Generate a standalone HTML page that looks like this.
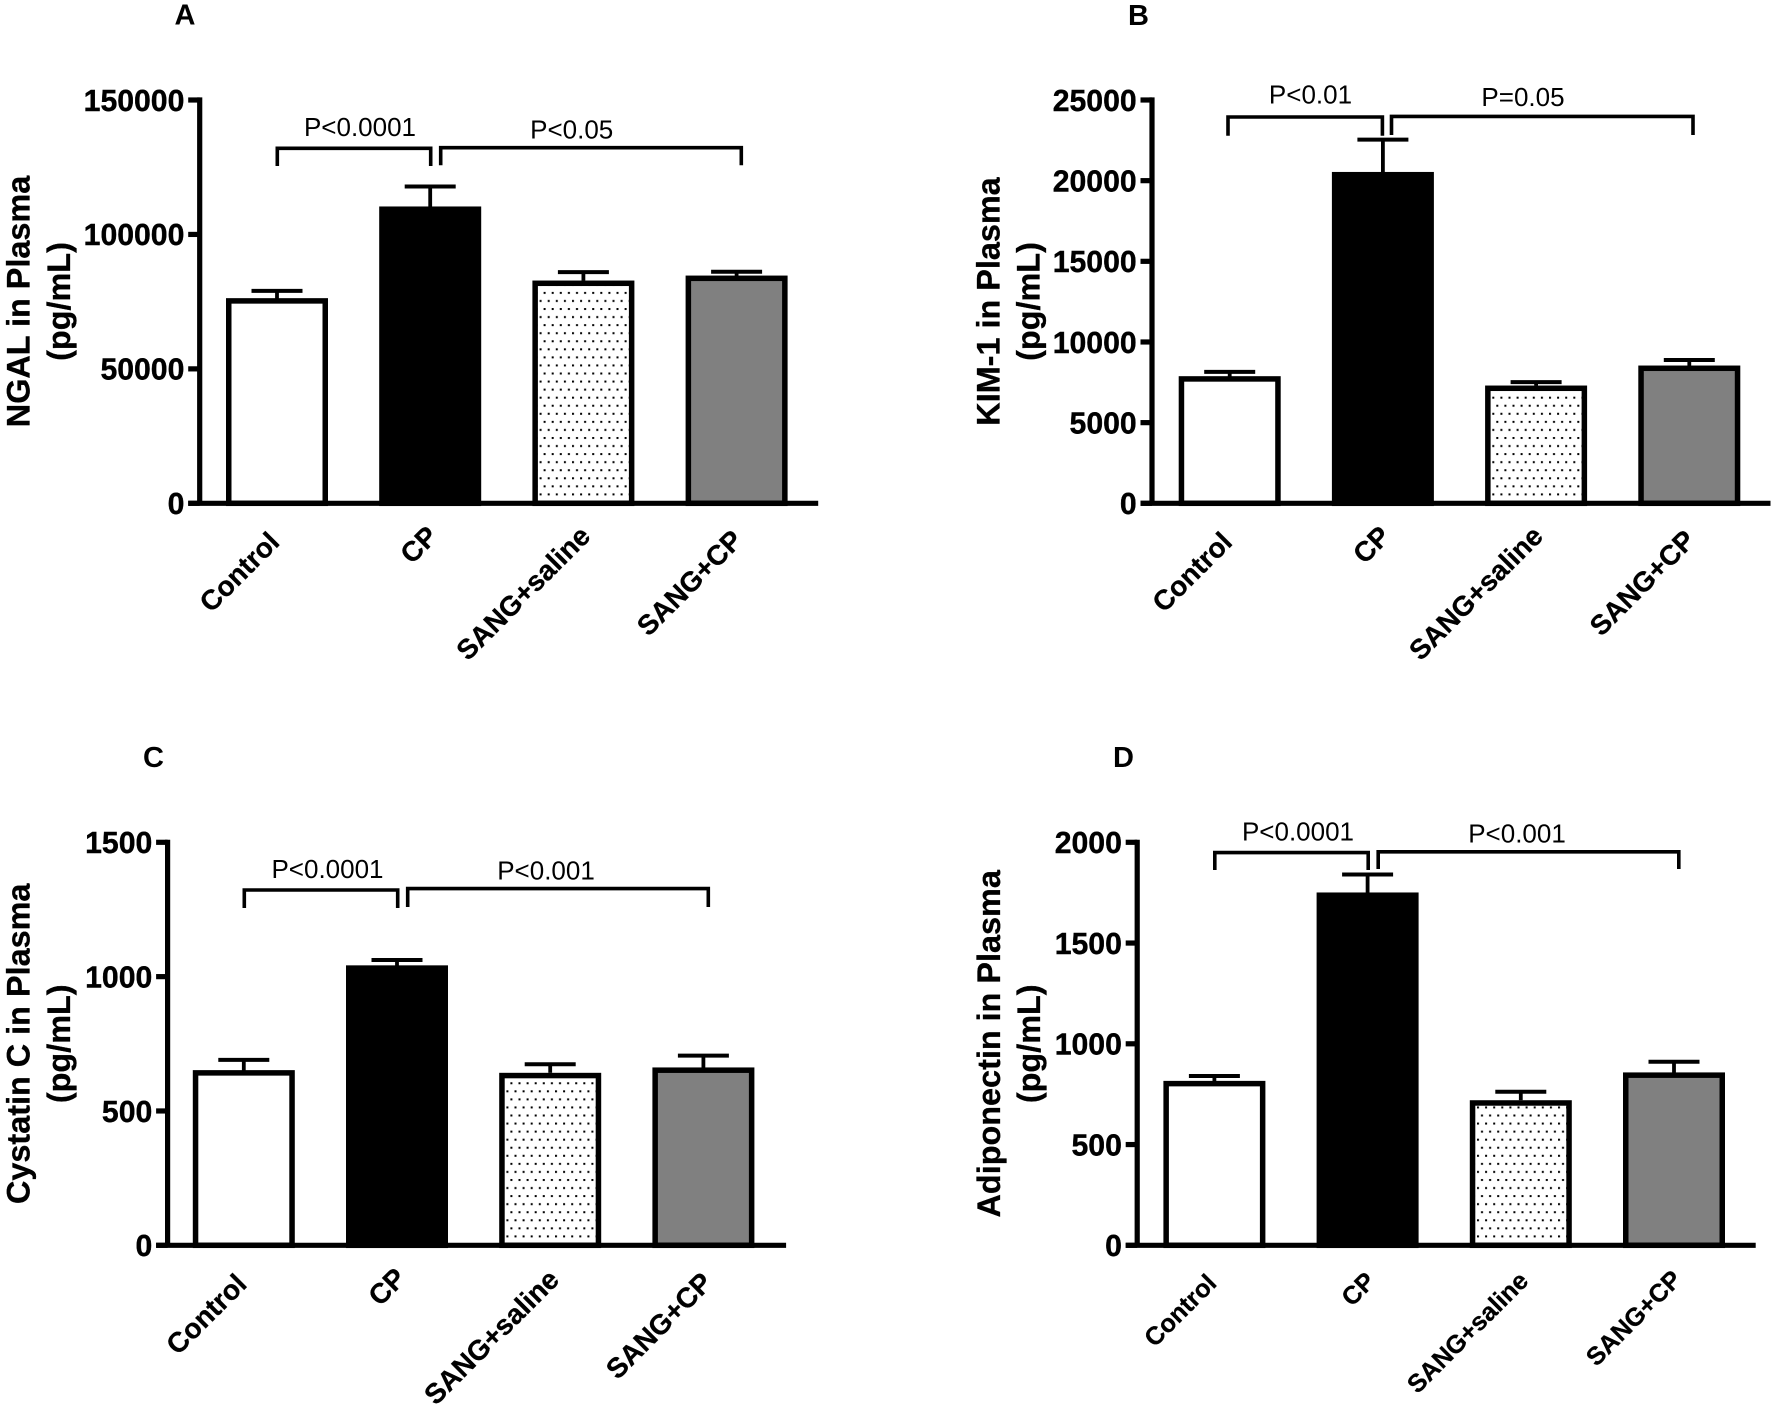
<!DOCTYPE html>
<html lang="en">
<head>
<meta charset="utf-8">
<title>Plasma biomarkers bar charts</title>
<style>
  html, body { margin: 0; padding: 0; background: #ffffff; }
  svg { display: block; }
  text { font-family: "Liberation Sans", Arial, sans-serif; fill: #000; }
  .letter { font-size: 29px; font-weight: 700; }
  .ytitle { font-size: 32.4px; font-weight: 700; text-anchor: middle; stroke: #000; stroke-width: 0.3; }
  .pval { font-size: 26px; text-anchor: middle; }
  .tick { font-size: 30.2px; font-weight: 700; text-anchor: end; stroke: #000; stroke-width: 0.4; }
  .cat { font-weight: 700; text-anchor: end; stroke: #000; stroke-width: 0.3; }
  .bracket { fill: none; stroke: #000; stroke-width: 3.6; }
</style>
</head>
<body>
<svg id="figure" xmlns="http://www.w3.org/2000/svg" width="1772" height="1406" viewBox="0 0 1772 1406">
  <rect width="1772" height="1406" fill="#ffffff"/>

  <!-- Panel A annotations -->
  <text class="letter" x="174.5" y="24.5">A</text>
  <text class="ytitle" transform="translate(29.5 301.5) rotate(-90)">NGAL in Plasma</text>
  <text class="ytitle" transform="translate(70 301.5) rotate(-90)">(pg/mL)</text>
  <path class="bracket" d="M277.3 166V148.3H430.7V166"/>
  <path class="bracket" d="M440.7 165.3V147.7H741.3V165.3"/>
  <text class="pval" x="360" y="136">P&lt;0.0001</text>
  <text class="pval" x="571.7" y="138.3">P&lt;0.05</text>

  <!-- Panel B annotations -->
  <text class="letter" x="1128" y="25">B</text>
  <text class="ytitle" transform="translate(999.5 301.5) rotate(-90)">KIM-1 in Plasma</text>
  <text class="ytitle" transform="translate(1039.5 301.5) rotate(-90)">(pg/mL)</text>
  <path class="bracket" d="M1228 135.7V117H1382.4V135.7"/>
  <path class="bracket" d="M1391.5 135V116.4H1693V135"/>
  <text class="pval" x="1310.5" y="103.5">P&lt;0.01</text>
  <text class="pval" x="1523" y="106">P=0.05</text>

  <!-- Panel C annotations -->
  <text class="letter" x="143" y="767">C</text>
  <text class="ytitle" transform="translate(29.5 1043.8) rotate(-90)">Cystatin C in Plasma</text>
  <text class="ytitle" transform="translate(70 1043.8) rotate(-90)">(pg/mL)</text>
  <path class="bracket" d="M244.3 908V890H397.7V908"/>
  <path class="bracket" d="M407.7 907V888.6H708.3V907"/>
  <text class="pval" x="327.5" y="878">P&lt;0.0001</text>
  <text class="pval" x="546" y="879.5">P&lt;0.001</text>

  <!-- Panel D annotations -->
  <text class="letter" x="1113" y="767">D</text>
  <text class="ytitle" transform="translate(1000 1043.8) rotate(-90)">Adiponectin in Plasma</text>
  <text class="ytitle" transform="translate(1040 1043.8) rotate(-90)">(pg/mL)</text>
  <path class="bracket" d="M1214.8 870V852.6H1368.2V870"/>
  <path class="bracket" d="M1378.2 869V851.8H1678.8V869"/>
  <text class="pval" x="1298" y="840.6">P&lt;0.0001</text>
  <text class="pval" x="1517" y="842.5">P&lt;0.001</text>

  <g id="marks"></g>
</svg>

<script>
// Shared categories
const categories = ['Control', 'CP', 'SANG+saline', 'SANG+CP'];

// Panel A – NGAL
const ngalMeans = [76300, 110400, 82850, 84700];
const ngalErrorTops = [79000, 117850, 86000, 86100];
const ngalTicks = [0, 50000, 100000, 150000];

// Panel B – KIM-1
const kimMeans = [7880, 20540, 7300, 8540];
const kimErrorTops = [8150, 22540, 7510, 8880];
const kimTicks = [0, 5000, 10000, 15000, 20000, 25000];

// Panel C – Cystatin C
const cystatinMeans = [652, 1042, 642, 662];
const cystatinErrorTops = [690, 1062, 674, 706];
const cystatinTicks = [0, 500, 1000, 1500];

// Panel D – Adiponectin
const adiponectinMeans = [816, 1751, 720, 858];
const adiponectinErrorTops = [840, 1840, 762, 911];
const adiponectinTicks = [0, 500, 1000, 1500, 2000];

const SVG_NS = 'http://www.w3.org/2000/svg';
const fills = ['#ffffff', '#000000', 'dots', '#808080'];
const slugs = ['control', 'cp', 'sang-saline', 'sang-cp'];

const nudgesAB = [[2, -3.5], [7, -9.5], [6.5, -9.5], [5.5, -5.5]];
const nudgesC = [[2.5, -1.5], [8.5, -7.5], [8.5, -6], [8.5, -3]];
const nudgesD = [[1.5, -2.5], [7, -4.5], [7, -5], [7, -6.5]];

const panels = [
  { id: 'a', axisX: 199.7, top: 100, base: 503.3, firstBar: 226, catSize: 27.8, means: ngalMeans, errs: ngalErrorTops, ticks: ngalTicks, labelDy: 44, nudges: nudgesAB },
  { id: 'b', axisX: 1152, top: 100, base: 503.3, firstBar: 1178.7, catSize: 27.8, means: kimMeans, errs: kimErrorTops, ticks: kimTicks, labelDy: 44, nudges: nudgesAB },
  { id: 'c', axisX: 167.6, top: 842.3, base: 1245.3, firstBar: 192.8, catSize: 28, means: cystatinMeans, errs: cystatinErrorTops, ticks: cystatinTicks, labelDy: 42, nudges: nudgesC },
  { id: 'd', axisX: 1137.2, top: 842.3, base: 1245.3, firstBar: 1163.4, catSize: 25.2, means: adiponectinMeans, errs: adiponectinErrorTops, ticks: adiponectinTicks, labelDy: 42, nudges: nudgesD }
];

const BAR_W = 102;
const BAR_STEP = 153.2;
const STROKE = 5.5;
const AXIS_W = 5.2;
const TICK_LEN = 11.5;
const AXIS_LEN = 630;
const CAP_W = 51;
const root = document.getElementById('marks');
const figure = document.getElementById('figure');

function make(tag, attrs, parent) {
  const el = document.createElementNS(SVG_NS, tag);
  Object.keys(attrs).forEach(function (k) { el.setAttribute(k, attrs[k]); });
  parent.appendChild(el);
  return el;
}

function yScale(p, v) {
  const max = p.ticks[p.ticks.length - 1];
  return p.base - (v / max) * (p.base - p.top);
}
function xBar(p, i) {
  return p.firstBar + i * BAR_STEP;
}

const defs = make('defs', {}, figure);

panels.forEach(function (p) {
  const group = make('g', {}, root);
  
  

  // dot pattern anchored to the speckled bar of this panel
  const left = xBar(p, 2);
  const pat = make('pattern', {
    id: 'dots-' + p.id, patternUnits: 'userSpaceOnUse', width: 8.1, height: 16.12,
    patternTransform: 'translate(' + (left + 7.2) + ' ' + (p.base - 9.9 - 16.12 + 8.06) + ')'
  }, defs);
  make('rect', { x: 4, y: 0, width: 2, height: 2, fill: '#000' }, pat);
  make('rect', { x: 0, y: 8.06, width: 2, height: 2, fill: '#000' }, pat);

  // bars and error bars
  p.means.forEach(function (mean, i) {
    const x = xBar(p, i);
    const cx = x + BAR_W / 2;
    const yTop = yScale(p, mean);
    const yErr = yScale(p, p.errs[i]);

    const stem = make('line', { x1: cx, x2: cx, y1: yErr, y2: yTop + 2, stroke: '#000', 'stroke-width': 3.8 }, group);
    
    

    const cap = make('line', { x1: cx - CAP_W / 2, x2: cx + CAP_W / 2, y1: yErr, y2: yErr, stroke: '#000', 'stroke-width': 4 }, group);
    
    

    const fill = fills[i] === 'dots' ? 'url(#dots-' + p.id + ')' : fills[i];
    if (fills[i] === 'dots') {
      const under = make('rect', { x: x, y: yTop, width: BAR_W, height: p.base - yTop, fill: '#ffffff' }, group);
      
      
    }
    const bar = make('rect', {
      x: x + STROKE / 2, y: yTop + STROKE / 2,
      width: BAR_W - STROKE, height: Math.max(0, p.base - yTop - STROKE / 2),
      fill: fill, stroke: '#000', 'stroke-width': STROKE
    }, group);
    
    

    const label = make('text', {
      class: 'cat', 'font-size': p.catSize,
      transform: 'translate(' + (cx + 2 + p.nudges[i][0]) + ' ' + (p.base + p.labelDy + p.nudges[i][1]) + ') rotate(-45)'
    }, group);
    label.textContent = categories[i];
    
    
  });

  // y axis
  const yAxis = make('line', {
    x1: p.axisX, x2: p.axisX, y1: p.top - AXIS_W / 2, y2: p.base,
    stroke: '#000', 'stroke-width': AXIS_W
  }, group);
  
  

  // x axis
  const xStart = p.axisX - TICK_LEN;
  const xAxis = make('line', {
    x1: xStart, x2: xStart + AXIS_LEN, y1: p.base, y2: p.base,
    stroke: '#000', 'stroke-width': AXIS_W
  }, group);
  
  

  // ticks and tick labels
  p.ticks.forEach(function (t) {
    const y = yScale(p, t);
    const tick = make('line', {
      x1: xStart, x2: p.axisX, y1: y, y2: y, stroke: '#000', 'stroke-width': AXIS_W
    }, group);
    
    

    const lab = make('text', { class: 'tick', x: xStart - 3.8, y: y + 10.8 }, group);
    lab.textContent = String(t);
    
    
  });
});
</script>
</body>
</html>
